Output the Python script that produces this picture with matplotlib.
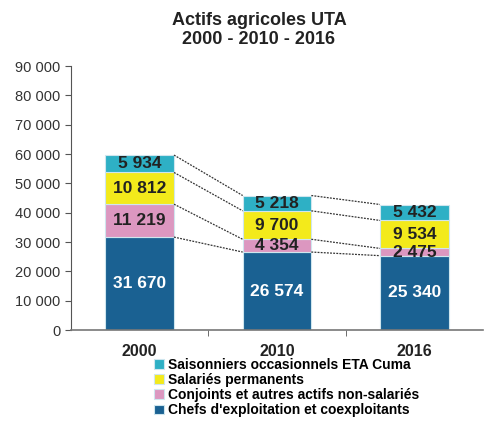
import numpy as np
import matplotlib.pyplot as plt

plt.rcParams['font.family'] = ['Liberation Sans', 'DejaVu Sans']

years = ['2000', '2010', '2016']
chefs = [31670, 26574, 25340]
conjoints = [11219, 4354, 2475]
salaries = [10812, 9700, 9534]
saisonniers = [5934, 5218, 5432]

series = [
    ("Chefs d'exploitation et coexploitants", chefs, '#1a6192', 'white'),
    ('Conjoints et autres actifs non-salariés', conjoints, '#dc97c0', '#222222'),
    ('Salariés permanents', salaries, '#f3ea1b', '#222222'),
    ('Saisonniers occasionnels ETA Cuma', saisonniers, '#2eb0c5', '#222222'),
]

def fmt(v):
    return f'{v:,}'.replace(',', ' ')

fig = plt.figure(figsize=(4.84, 4.21), dpi=100)
ax = fig.add_axes([71/484, 91/421, 412/484, 264/421])

x = np.arange(len(years))
w = 0.5
bottom = np.zeros(len(years))
tops = []
for name, vals, col, tcol in series:
    vals = np.array(vals)
    ax.bar(x, vals, w, bottom=bottom, color=col, edgecolor='#cfe6ee', linewidth=0.8, label=name)
    for i in range(len(x)):
        ax.text(x[i], bottom[i] + vals[i] / 2, fmt(vals[i]), ha='center', va='center',
                fontsize=12.5, fontweight='bold', color=tcol)
    bottom = bottom + vals
    tops.append(bottom.copy())

# dotted connectors between bars
for t in tops:
    for i in range(len(x) - 1):
        ax.plot([x[i] + w/2, x[i+1] - w/2], [t[i], t[i+1]], ls=(0, (1.5, 1)),
                color='#333333', lw=0.9)

ax.set_xlim(-0.5, 2.5)
ax.set_ylim(0, 90000)
ax.set_yticks(range(0, 90001, 10000))
ax.set_yticklabels([fmt(v) for v in range(0, 90001, 10000)], fontsize=10.5, color='#333333')
ax.set_xticks(x)
ax.set_xticklabels(years, fontsize=11.5, fontweight='bold', color='#222222')
ax.set_xticks([0.5, 1.5], minor=True)
ax.tick_params(axis='x', which='major', length=0, pad=10)
ax.tick_params(axis='x', which='minor', length=4, color='#555555')
ax.tick_params(axis='y', length=4, color='#555555')
for s in ['top', 'right']:
    ax.spines[s].set_visible(False)
ax.spines['left'].set_color('#555555')
ax.spines['bottom'].set_color('#777777')
ax.spines['bottom'].set_linewidth(1.2)

fig.text(0.535, 0.972, 'Actifs agricoles UTA\n2000 - 2010 - 2016', ha='center', va='top',
         fontsize=13, fontweight='bold', color='#222222', linespacing=1.2)

h, l = ax.get_legend_handles_labels()
fig.legend(h[::-1], l[::-1], loc='upper left', bbox_to_anchor=(154/484, 1 - 358/421),
           frameon=False, handlelength=0.7, handleheight=0.7, handletextpad=0.3,
           labelspacing=0.08, prop={'weight': 'bold', 'size': 10}, borderaxespad=0,
           borderpad=0)

fig.savefig('out.png', dpi=100)
